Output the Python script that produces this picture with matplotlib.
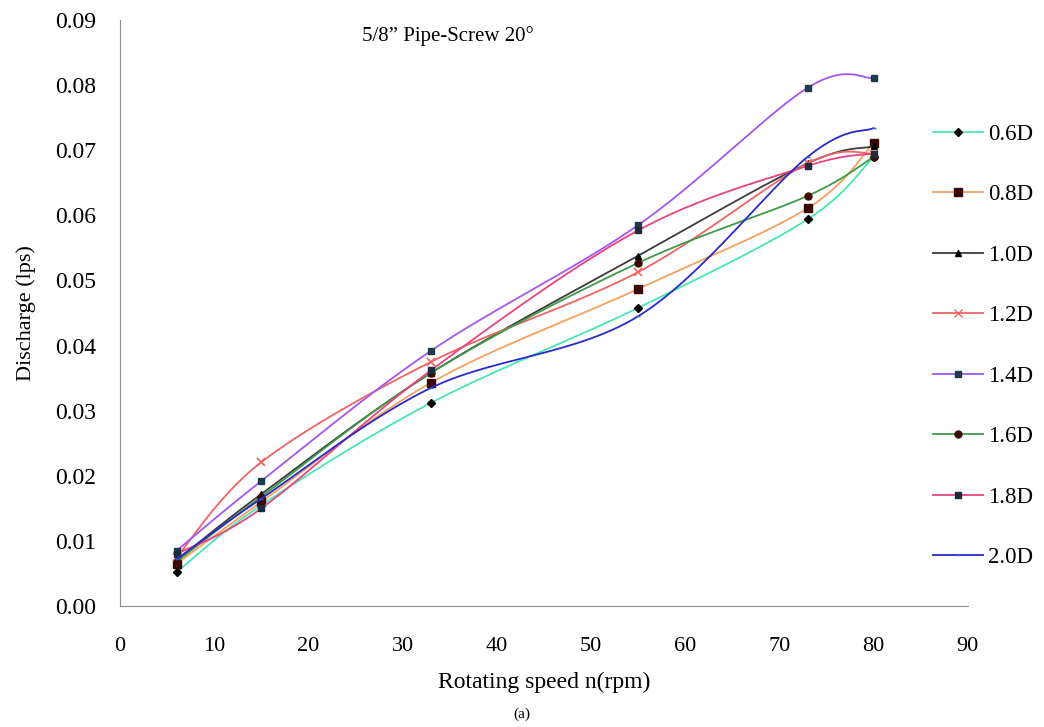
import numpy as np
import matplotlib
matplotlib.use('Agg')
import matplotlib.pyplot as plt

plt.rcParams['font.family'] = ['Liberation Serif', 'DejaVu Serif']

speed = [6, 15, 33, 55, 73, 80]
labels = ['0.6D', '0.8D', '1.0D', '1.2D', '1.4D', '1.6D', '1.8D', '2.0D']
q_06 = [0.0052, 0.0155, 0.0312, 0.0458, 0.0594, 0.0690]
q_08 = [0.0065, 0.0160, 0.0343, 0.0487, 0.0611, 0.0711]
q_10 = [0.0070, 0.0172, 0.0358, 0.0538, 0.0680, 0.0706]
q_12 = [0.0075, 0.0221, 0.0375, 0.0513, 0.0680, 0.0695]
q_14 = [0.0085, 0.0192, 0.0392, 0.0585, 0.0796, 0.0811]
q_16 = [0.0068, 0.0168, 0.0358, 0.0527, 0.0630, 0.0690]
q_18 = [0.0080, 0.0150, 0.0362, 0.0577, 0.0676, 0.0695]
q_20 = [0.0072, 0.0165, 0.0335, 0.0445, 0.0690, 0.0734]
series = [q_06, q_08, q_10, q_12, q_14, q_16, q_18, q_20]

colors = ['#48e6b4', '#f7a060', '#3c3c3c', '#f06464', '#a456f0', '#3e9a46', '#e8447e', '#2a2ac8']
markers = ['D', 's', '^', 'x', 's', 'o', 's', '_']
msizes = [4, 6, 4, 6, 5, 5, 5, 3]
mfc = ['black', '#3a0800', 'black', '#f08c8c', '#1c3c4c', '#3a0a00', '#1c2c3c', '#3060c0']


def smooth(x, y, n=30):
    # excel-like smoothed line (catmull-rom bezier)
    x = np.asarray(x, float)
    y = np.asarray(y, float)
    px = np.concatenate([[x[0]], x, [x[-1]]])
    py = np.concatenate([[y[0]], y, [y[-1]]])
    xs, ys = [], []
    t = np.linspace(0, 1, n)
    for i in range(1, len(px) - 2):
        p0 = np.array([px[i], py[i]])
        p3 = np.array([px[i + 1], py[i + 1]])
        c1 = p0 + (np.array([px[i + 1], py[i + 1]]) - np.array([px[i - 1], py[i - 1]])) / 6
        c2 = p3 - (np.array([px[i + 2], py[i + 2]]) - np.array([px[i], py[i]])) / 6
        b = ((1 - t) ** 3)[:, None] * p0 + (3 * (1 - t) ** 2 * t)[:, None] * c1 \
            + (3 * (1 - t) * t ** 2)[:, None] * c2 + (t ** 3)[:, None] * p3
        xs.extend(b[:, 0])
        ys.extend(b[:, 1])
    return xs, ys


fig = plt.figure(figsize=(10.44, 7.27), dpi=100)
ax = fig.add_axes([0.115, 0.1664, 0.812, 0.806])

handles = []
for y, lab, c, m, ms, fc in zip(series, labels, colors, markers, msizes, mfc):
    sx, sy = smooth(speed, y)
    ax.plot(sx, sy, color=c, lw=1.3)
    ec = fc if m != 'x' else c
    ax.plot(speed, y, ls='none', marker=m, ms=ms, mfc=fc, mec=ec, mew=1.0 if m != 'x' else 1.2)
    h, = ax.plot([], [], color=c, lw=1.3, marker=m, ms=ms, mfc=fc, mec=ec)
    handles.append(h)

ax.set_xlim(0, 90)
ax.set_ylim(0, 0.09)
ax.set_xticks(range(0, 91, 10))
ax.set_yticks(np.arange(0, 0.0901, 0.01))
ax.set_yticklabels([f'{v:.2f}' for v in np.arange(0, 0.0901, 0.01)])
ax.tick_params(axis='x', labelsize=16, length=0, pad=22)
ax.tick_params(axis='y', labelsize=17, length=0, pad=17)
for s in ['top', 'right']:
    ax.spines[s].set_visible(False)
for s in ['left', 'bottom']:
    ax.spines[s].set_color('#909090')

ax.set_xlabel('Rotating speed n(rpm)', fontsize=17, labelpad=12)
ax.set_ylabel('Discharge (lps)', fontsize=16, labelpad=14)
ax.text(0.285, 0.99, '5/8\u201d Pipe-Screw 20\u00b0', transform=ax.transAxes, fontsize=15, va='top')
fig.text(0.5, 0.012, '(a)', fontsize=11, ha='center')

fig.legend(handles, labels, loc='upper left', bbox_to_anchor=(0.874, 0.858), frameon=False,
           fontsize=16.5, labelspacing=1.72, handlelength=2.2, handletextpad=0.2)

fig.savefig('out.png', dpi=100)
